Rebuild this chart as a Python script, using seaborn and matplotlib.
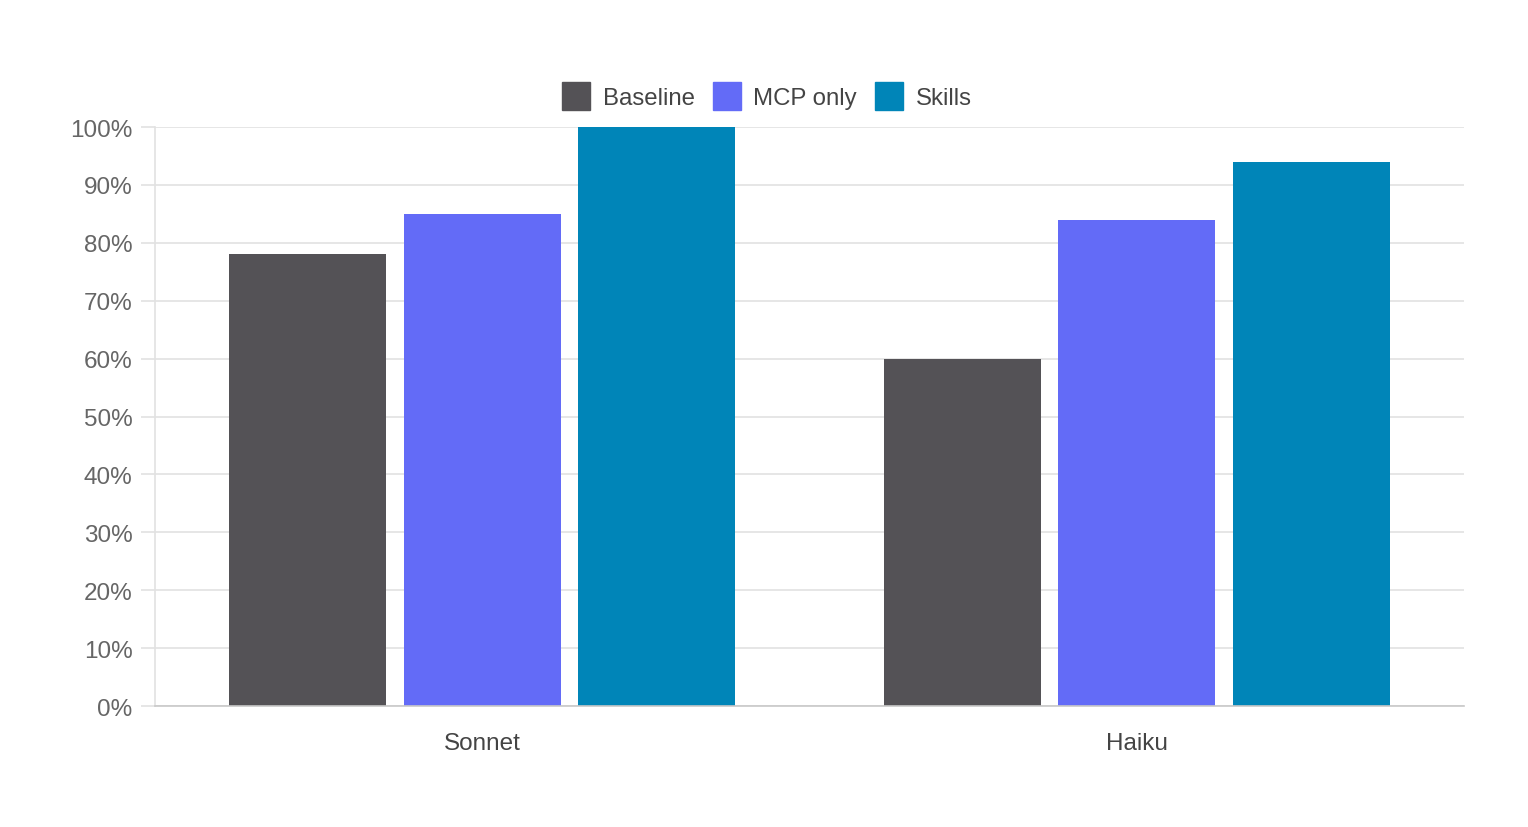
import pandas as pd
import seaborn as sns
import matplotlib.pyplot as plt
from matplotlib.lines import Line2D
from matplotlib.ticker import PercentFormatter

models = ["Sonnet", "Haiku"]
setups = ["Baseline", "MCP only", "Skills"]
baseline = [78, 60]
mcp_only = [85, 84]
skills = [100, 94]
colors = ["#545256", "#636BF7", "#0085B8"]


def build_frame():
    rows = []
    for setup, vals in zip(setups, [baseline, mcp_only, skills]):
        for model, v in zip(models, vals):
            rows.append({"Model": model, "Setup": setup, "Score": v})
    return pd.DataFrame(rows)


def draw(df):
    sns.set_theme(style="white")
    plt.rcParams["font.family"] = ["Liberation Sans", "DejaVu Sans"]

    fig = plt.figure(figsize=(15.28, 8.28), dpi=100)
    ax = fig.add_axes([0.1014, 0.1461, 0.8567, 0.6993])

    sns.barplot(data=df, x="Model", y="Score", hue="Setup", hue_order=setups,
                palette=colors, width=0.8, gap=0.1, saturation=1, ax=ax,
                legend=False, linewidth=0)

    ax.set_ylim(0, 100)
    ax.set_xlim(-0.5, 1.5)
    ax.set_yticks(range(0, 101, 10))
    ax.yaxis.set_major_formatter(PercentFormatter(decimals=0))
    ax.grid(axis="y", color="#e2e2e2", linewidth=1.2)
    ax.set_axisbelow(True)
    ax.set_xlabel("")
    ax.set_ylabel("")

    for side in ["top", "right"]:
        ax.spines[side].set_visible(False)
    ax.spines["left"].set_color("#e2e2e2")
    ax.spines["left"].set_linewidth(1.2)
    ax.spines["bottom"].set_color("#c8c8c8")
    ax.spines["bottom"].set_linewidth(1.2)

    ax.tick_params(axis="y", length=10, width=1.2, color="#e2e2e2",
                   labelsize=17.5, labelcolor="#666666", pad=6, left=True)
    ax.tick_params(axis="x", length=0, labelsize=17.5, labelcolor="#444444", pad=19)

    handles = [Line2D([], [], marker="s", linestyle="", markersize=20,
                      markerfacecolor=c, markeredgecolor=c) for c in colors]
    fig.legend(handles, setups, loc="center", bbox_to_anchor=(0.4987, 0.880),
               ncol=3, frameon=False, fontsize=17.3, handletextpad=0.1,
               columnspacing=0.35, labelcolor="#444444", borderaxespad=0)

    plt.savefig("out.png", dpi=100)


if __name__ == "__main__":
    draw(build_frame())
